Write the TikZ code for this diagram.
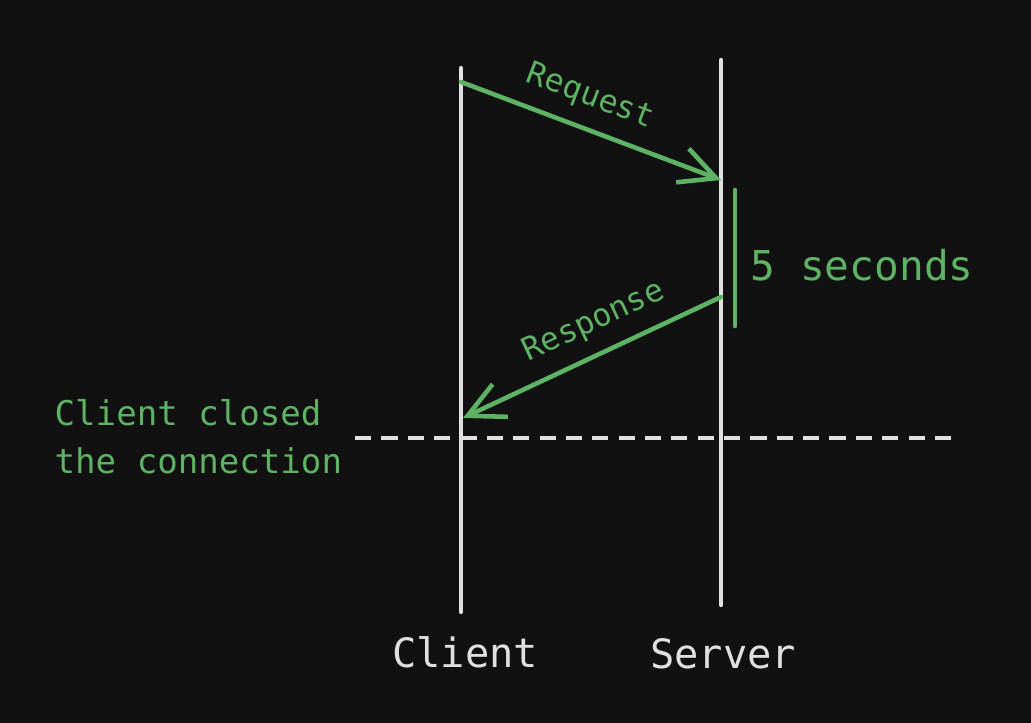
\documentclass[tikz,border=0pt]{standalone}
\usepackage{fontspec}
\setmonofont{DejaVu Sans Mono}
\usepackage{tikz}
\usetikzlibrary{positioning,arrows.meta,calc}
\definecolor{bgc}{RGB}{17,17,17}
\definecolor{grn}{RGB}{94,178,100}
\definecolor{wht}{RGB}{224,224,224}
\tikzset{
  lifeline/.style={wht,line width=1.2pt,line cap=round},
  msg/.style={grn,line width=1.3pt,line cap=round,
    -{Straight Barb[length=3.6mm,width=3.6mm,line width=1.3pt]}},
  msglbl/.style={grn,font=\ttfamily\fontsize{9}{11}\selectfont,inner sep=0pt},
  waitbar/.style={grn,line width=1.3pt,line cap=round},
  cutline/.style={wht,line width=1.1pt,dash pattern=on 4.6pt off 2.9pt},
  partlbl/.style={wht,font=\ttfamily\fontsize{11.5}{13}\selectfont,inner sep=0pt},
  notelbl/.style={grn,font=\ttfamily\fontsize{9.7}{13.7}\selectfont,align=left,inner sep=0pt},
}
\begin{document}
\begin{tikzpicture}
  % background and frame
  \fill[bgc] (0,0) rectangle (10.31,7.23);
  \useasboundingbox (0,0) rectangle (10.31,7.23);
  % lifelines
  \coordinate (cTop) at (4.61,6.55);
  \coordinate (cBot) at (4.61,1.11);
  \coordinate (sTop) at (7.21,6.63);
  \coordinate (sBot) at (7.21,1.18);
  \draw[lifeline] (cTop)--(cBot);
  \draw[lifeline] (sTop)--(sBot);
  \node[partlbl] (client) at (4.65,0.71) {Client};
  \node[partlbl] (server) at (7.23,0.69) {Server};
  % request / response
  \coordinate (reqA) at (4.61,6.41);
  \coordinate (reqB) at (7.21,5.43);
  \coordinate (resA) at (7.21,4.26);
  \coordinate (resB) at (4.63,3.05);
  \draw[msg] (reqA)--(reqB);
  \draw[msg] (resA)--(resB);
  \node[msglbl,rotate=-20.6] (req) at (5.90,6.26) {Request};
  \node[msglbl,rotate=25.1] (res) at (5.94,4.01) {Response};
  % processing time
  \coordinate (wTop) at (7.35,5.33);
  \coordinate (wBot) at (7.35,3.97);
  \draw[waitbar] (wTop)--(wBot);
  \node[grn,font=\ttfamily\fontsize{11.7}{14}\selectfont,inner sep=0pt,anchor=west]
    (wait) at (7.50,4.58) {5 seconds};
  % connection closed
  \coordinate (cutL) at (3.55,2.85);
  \coordinate (cutR) at (9.60,2.85);
  \draw[cutline] (cutL)--(cutR);
  \node[notelbl,anchor=west] (closed) at (0.54,2.86) {Client closed\\the connection};
\end{tikzpicture}
\end{document}
